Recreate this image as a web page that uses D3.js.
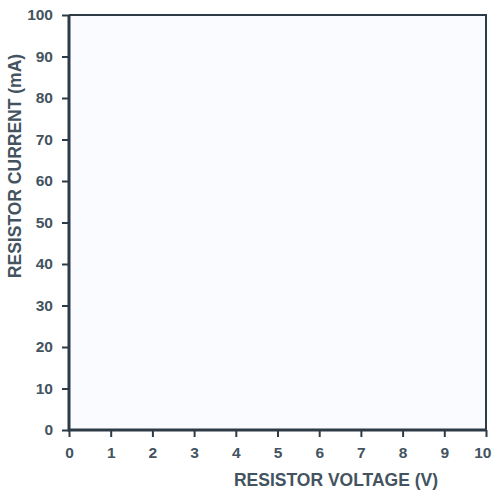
<!DOCTYPE html>
<html><head><meta charset="utf-8">
<script src="https://cdn.jsdelivr.net/npm/d3@7"></script>
<style>body{margin:0;background:#fff}svg{display:block}text{font-family:"Liberation Sans",Arial,sans-serif;font-weight:bold;fill:#435360}</style>
</head><body><svg id="c" width="492" height="490"></svg>
<script>
const xTicks = [0,1,2,3,4,5,6,7,8,9,10];
const yTicks = [0,10,20,30,40,50,60,70,80,90,100];
const xTitle = "RESISTOR VOLTAGE (V)";
const yTitle = "RESISTOR CURRENT (mA)";

const svg = d3.select("#c");
const x = d3.scaleLinear().domain([0,10]).range([69,486]);
const y = d3.scaleLinear().domain([0,100]).range([430,15]);
const ink = "#2c3b45";

svg.append("rect").attr("x",x(0)).attr("y",y(100)).attr("width",x(10)-x(0)).attr("height",y(0)-y(100)).attr("fill","#fafbfe");

const gx = svg.append("g").attr("transform",`translate(0,${y(0)})`)
  .call(d3.axisBottom(x).tickValues(xTicks).tickSize(7).tickPadding(10).tickFormat(d3.format("d")));
const gy = svg.append("g").attr("transform",`translate(${x(0)},0)`)
  .call(d3.axisLeft(y).tickValues(yTicks).tickSize(7).tickPadding(9).tickFormat(d3.format("d")));
[gx,gy].forEach(g=>{
  g.select(".domain").remove();
  g.selectAll("line").attr("stroke",ink).attr("stroke-width",2);
  g.selectAll("text").attr("font-size",15.5).attr("fill","#435360").style("font-family","'Liberation Sans',Arial,sans-serif").style("font-weight","bold");
});
// keep the last x label inside the page
gx.selectAll(".tick").filter(d=>d===10).select("text").attr("text-anchor","end").attr("x",491-x(10));
// frame
svg.append("path").attr("d",`M${x(0)},${y(100)}H${x(10)}V${y(0)}`).attr("fill","none").attr("stroke",ink).attr("stroke-width",2);
svg.append("path").attr("d",`M${x(0)},${y(100)}V${y(0)}H${x(10)}`).attr("fill","none").attr("stroke",ink).attr("stroke-width",3);

svg.append("text").attr("x",336).attr("y",486).attr("text-anchor","middle").attr("font-size",17.5).text(xTitle);
svg.append("text").attr("transform","translate(21,166) rotate(-90)").attr("text-anchor","middle").attr("font-size",17.5).text(yTitle);
</script></body></html>
